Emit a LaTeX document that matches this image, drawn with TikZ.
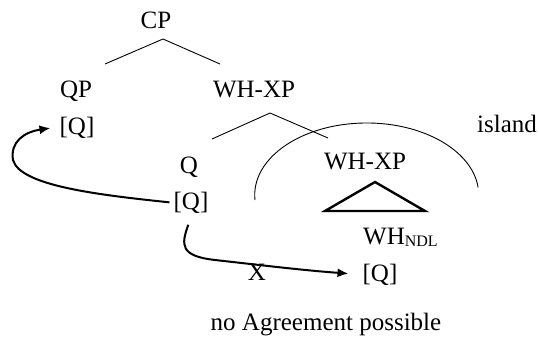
\documentclass[tikz,border=0pt]{standalone}
\usepackage{fontspec}
\setmainfont{Liberation Serif}
\usepackage{tikz}
\usetikzlibrary{arrows.meta}
\tikzstyle{lbl} = [anchor=base, inner sep=4pt, %
   font=\fontsize{25}{30}\selectfont]
\tikzstyle{branch} = [draw, line width=0.9pt]
\tikzstyle{roof} = [draw, line width=2.4pt, line join=miter]
\tikzstyle{move} = [draw, line width=2pt, -{Latex[length=11pt,width=9pt]}]

\begin{document}
\begin{tikzpicture}[x=1pt,y=1pt]
   \useasboundingbox (0,0) rectangle (539,-338);

   % Place nodes
   \node[lbl] (cp) at (156,-28) {CP};
   \node[lbl] (qp) at (76,-97) {QP};
   \node[lbl] (qtop) at (77,-134) {[Q]};
   \node[lbl] (whxp) at (254,-97) {WH-XP};
   \node[lbl] (q) at (189,-173) {Q};
   \node[lbl] (qmid) at (191,-209) {[Q]};
   \node[lbl] (island) at (507,-132) {island};

   % ISLAND %%%%%%%%%%%%%%%%%%%%%%%%%%%%%%%%%%%%%%%%%%%%%%%%%%%%%%%%%%%%%
   \node[lbl] (whxpin) at (365,-169) {WH-XP};
   \node[lbl, anchor=base west] (whndl) at (359,-244) {WH\raisebox{-2.5pt}{\fontsize{16}{16}\selectfont NDL}};
   \node[lbl] (qbot) at (380,-281) {[Q]};
   \node[lbl] (x) at (257,-280) {X};
   \node[lbl] (noagr) at (326,-330) {no Agreement possible};

   % tree joints
   \coordinate (cpk) at (163,-39);
   \coordinate (cpl) at (105,-64);
   \coordinate (cpr) at (220,-64);
   \coordinate (whk) at (270,-113);
   \coordinate (whl) at (212,-139);
   \coordinate (whr) at (328,-138);
   \coordinate (apex) at (375,-182);
   \coordinate (bl) at (325,-211);
   \coordinate (br) at (425,-211);

   % Draw edges
   \path [branch] (cpl) -- (cpk) -- (cpr);
   \path [branch] (whl) -- (whk) -- (whr);
   \draw [line width=0.9pt] (255,-200) arc[start angle=184, end angle=6, x radius=112, y radius=72];
   \path [roof] (apex) -- (bl) -- (br) -- cycle;

   % movement arrows
   \path [move, shorten >=5pt] (qmid.west) .. controls (100,-195) and (20,-186) .. (13,-160)
      .. controls (10,-142) and (24,-132) .. (qtop.west);
   \path [move, shorten <=8pt, shorten >=10pt] (qmid.south) .. controls (181,-245) and (180,-256) .. (215,-260)
      .. controls (260,-265) and (300,-270) .. (qbot.west);
\end{tikzpicture}
\end{document}
